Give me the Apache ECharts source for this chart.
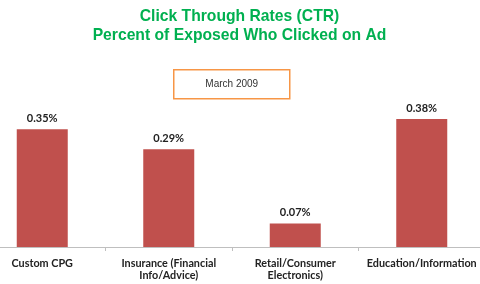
<!DOCTYPE html>
<html><head><meta charset="utf-8">
<script src="https://cdn.jsdelivr.net/npm/echarts@6/dist/echarts.min.js"></script>
<style>html,body{margin:0;padding:0;background:#fff;overflow:hidden;width:480px;height:284px}#c{width:506px;height:284px;margin-left:-21px}</style>
</head><body><div id="c"></div>
<script>
const categories = ["Custom CPG", "Insurance (Financial\nInfo/Advice)", "Retail/Consumer\nElectronics)", "Education/Information"];
const ctrValues = [0.35, 0.29, 0.07, 0.38];
const titleLines = ["Click Through Rates (CTR)", "Percent of Exposed Who Clicked on Ad"];
const periodLabel = "March 2009";

const OFF = 21; // chart div is shifted left by 21px
const chart = echarts.init(document.getElementById('c'), null, {renderer: 'canvas'});
chart.setOption({
  animation: false,
  title: {
    text: titleLines.join('\n'),
    left: 234.5 + OFF, top: 2, textAlign: 'center',
    textStyle: {color: '#00B050', fontFamily: 'Liberation Sans, Arial', fontWeight: 'bold', fontSize: 15.7, lineHeight: 19}
  },
  graphic: [{
    type: 'group', left: 173 + OFF, top: 69,
    children: [
      {type: 'rect', shape: {x: 0, y: 0, width: 116, height: 29}, style: {fill: '#fff', stroke: '#F79646', lineWidth: 1.5}},
      {type: 'text', x: 58, y: 14.5, style: {text: periodLabel, textAlign: 'center', textVerticalAlign: 'middle', fill: '#333', fontSize: 10, fontFamily: 'Liberation Sans, Arial'}}
    ]
  }],
  grid: {left: 0, right: 0, top: 112.3, bottom: 37, containLabel: false},
  xAxis: {
    type: 'category', data: categories,
    axisLine: {lineStyle: {color: '#BFBFBF'}},
    axisTick: {show: true, length: 4, lineStyle: {color: '#BFBFBF'}},
    axisLabel: {interval: 0, color: '#222', fontWeight: 'bold', fontSize: 10.8, fontFamily: 'Lato, Open Sans', lineHeight: 12, margin: 11}
  },
  yAxis: {type: 'value', min: 0, max: 0.4, show: false, splitLine: {show: false}},
  series: [{
    type: 'bar', data: ctrValues, barWidth: 51,
    itemStyle: {color: '#C0504D'},
    label: {show: true, position: 'top', distance: 5, formatter: p => p.value.toFixed(2) + '%', color: '#222', fontWeight: 'bold', fontSize: 11, fontFamily: 'Lato, Open Sans'}
  }]
});
</script></body></html>
